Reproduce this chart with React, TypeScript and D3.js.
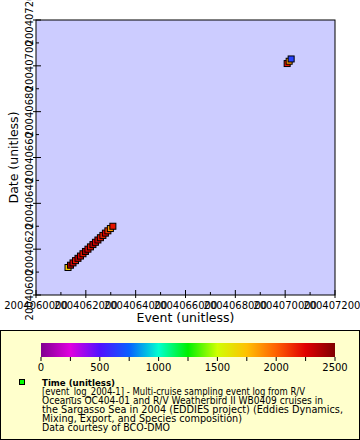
import React from "react";
import * as d3 from "d3";

const dates = [
  20040612, 20040613, 20040614, 20040615, 20040616, 20040617, 20040618,
  20040619, 20040620, 20040621, 20040622, 20040623, 20040624, 20040625,
  20040626, 20040627, 20040628, 20040629, 20040630,
  20040701, 20040702, 20040703,
];
const events = [
  2004061285, 2004061385, 2004061485, 2004061585, 2004061685, 2004061785,
  2004061885, 2004061985, 2004062085, 2004062185, 2004062285, 2004062385,
  2004062485, 2004062585, 2004062685, 2004062785, 2004062885, 2004062985,
  2004063085,
  2004070080, 2004070160, 2004070240,
];
const times = [
  1720, 2400, 2300, 2200, 2350, 2250, 2200, 2400, 2250, 2200, 2350, 2250,
  2300, 2200, 2150, 2250, 2100, 1850, 2200,
  2200, 1850, 650,
];

const xTicks = [2004060000, 2004062000, 2004064000, 2004066000, 2004068000, 2004070000, 2004072000];
const yTicks = [20040600, 20040620, 20040640, 20040660, 20040680, 20040700, 20040720];
const cbTicks = [0, 500, 1000, 1500, 2000, 2500];
const cbStops = [0, 250, 500, 750, 1000, 1250, 1500, 1750, 2000, 2250, 2500];
const cbColors = [
  "#800090", "#e000e0", "#5010ff", "#0860ff", "#00ffd0", "#00f000",
  "#d0ff00", "#ffc000", "#ff6000", "#e00000", "#800000",
];
const legendLines = [
  "[event_log_2004-1] - Multi-cruise sampling event log from R/V",
  "Oceanus OC404-01 and R/V Weatherbird II WB0409 cruises in",
  "the Sargasso Sea in 2004 (EDDIES project) (Eddies Dynamics,",
  "Mixing, Export, and Species composition)",
  "Data courtesy of BCO-DMO",
];
const legendWidths = [263, 281, 301, 200, 128];

const FONT = "DejaVu Sans, sans-serif";

export default function App() {
  const L = 36, R = 335, T = 20, B = 295;
  const x = d3.scaleLinear().domain([2004060000, 2004072000]).range([L, R]);
  const y = d3.scaleLinear().domain([20040600, 20040720]).range([B, T]);
  const color = d3.scaleLinear<string>().domain(cbStops).range(cbColors).interpolate(d3.interpolateRgb);
  const cbX = d3.scaleLinear().domain([0, 2500]).range([41, 335]);

  const xMinor = d3.range(2004060000, 2004072001, 1000);
  const yMinor = d3.range(20040600, 20040721, 10);
  const cbMinor = d3.range(0, 2501, 250);

  const gradStops = d3.range(0, 2501, 50);

  return (
    <svg width={360} height={440} style={{ position: "absolute", left: 0, top: 0 }} fontFamily={FONT}>
      <defs>
        <linearGradient id="cb" x1="0" x2="1" y1="0" y2="0">
          {gradStops.map((v) => (
            <stop key={v} offset={v / 2500} stopColor={color(v)} />
          ))}
        </linearGradient>
        <clipPath id="plotclip">
          <rect x={L} y={T} width={R - L} height={B - T} />
        </clipPath>
      </defs>
      <rect x={0} y={0} width={360} height={440} fill="#ffffff" />
      <rect x={L} y={T} width={R - L} height={B - T} fill="#ccccff" />

      {xMinor.map((v) => {
        const major = (v - 2004060000) % 2000 === 0;
        return (
          <line key={"xm" + v} x1={x(v)} x2={x(v)} y1={B + (major ? 3 : 0)} y2={B - (major ? 5 : 3)} stroke="#000" />
        );
      })}
      {yMinor.map((v) => {
        const major = (v - 20040600) % 20 === 0;
        return (
          <line key={"ym" + v} y1={y(v)} y2={y(v)} x1={L - (major ? 3 : 0)} x2={L + (major ? 5 : 3)} stroke="#000" />
        );
      })}

      <g clipPath="url(#plotclip)">
        {events.map((e, i) => (
          <rect
            key={i}
            x={x(e) - 3}
            y={y(dates[i]) - 3}
            width={6}
            height={6}
            fill={color(times[i])}
            stroke="#000"
            strokeWidth={1}
          />
        ))}
      </g>

      <rect x={L} y={T} width={R - L} height={B - T} fill="none" stroke="#000" />

      {xTicks.map((v) => (
        <text key={"xl" + v} x={x(v)} y={309} fontSize={10} textAnchor="middle">
          {v}
        </text>
      ))}
      {yTicks.map((v) => (
        <text key={"yl" + v} transform={`translate(33,${y(v)}) rotate(-90)`} fontSize={10} textAnchor="middle">
          {v}
        </text>
      ))}

      <text x={(L + R) / 2} y={322} fontSize={12.5} textAnchor="middle">
        Event (unitless)
      </text>
      <text transform={`translate(18,${(T + B) / 2}) rotate(-90)`} fontSize={12.5} textAnchor="middle">
        Date (unitless)
      </text>

      <rect x={0.5} y={330.5} width={359} height={109} fill="#ffffcc" stroke="#000" />
      <rect x={41} y={343} width={294} height={14} fill="url(#cb)" />
      {cbMinor.map((v) => (
        <line key={"cm" + v} x1={cbX(v)} x2={cbX(v)} y1={357} y2={361} stroke="#000" />
      ))}
      {cbTicks.map((v) => (
        <text key={"cl" + v} x={cbX(v)} y={371} fontSize={10} textAnchor="middle">
          {v}
        </text>
      ))}
      <rect x={19.5} y={379.5} width={5} height={5} fill="#00ff00" stroke="#000" />
      <text x={42} y={386} fontSize={9.5} fontWeight="bold" textLength={73} lengthAdjust="spacingAndGlyphs">
        Time (unitless)
      </text>
      {legendLines.map((s, i) => (
        <text
          key={"lg" + i}
          x={42}
          y={395 + i * 9}
          fontSize={9.6}
          textLength={legendWidths[i]}
          lengthAdjust="spacingAndGlyphs"
        >
          {s}
        </text>
      ))}
    </svg>
  );
}
